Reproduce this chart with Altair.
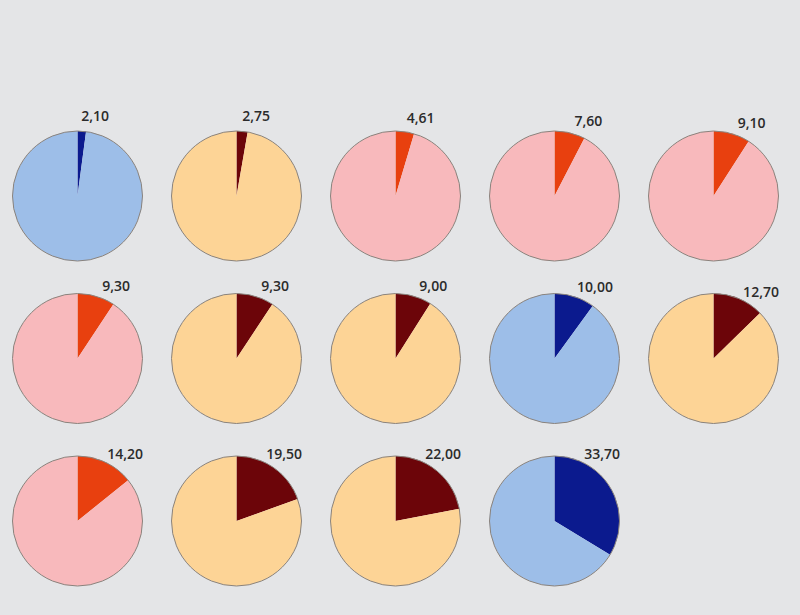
import math
import altair as alt
import pandas as pd

# ---- data ----
values = [2.10, 2.75, 4.61, 7.60, 9.10,
          9.30, 9.30, 9.00, 10.00, 12.70,
          14.20, 19.50, 22.00, 33.70]
labels = ["2,10", "2,75", "4,61", "7,60", "9,10",
          "9,30", "9,30", "9,00", "10,00", "12,70",
          "14,20", "19,50", "22,00", "33,70"]
groups = ["blue", "orange", "pink", "pink", "pink",
          "pink", "orange", "orange", "blue", "orange",
          "pink", "orange", "orange", "blue"]

per_row = 5

# ---- tables built from the arrays ----
parts = []
pies = []
for i, (v, lab, g) in enumerate(zip(values, labels, groups)):
    col, row = i % per_row, i // per_row
    parts.append({"pie": i, "col": col, "row": row, "key": g + "_slice",
                  "start": 0.0, "end": v})
    parts.append({"pie": i, "col": col, "row": row, "key": g + "_rest",
                  "start": v, "end": 100.0})
    pies.append({"pie": i, "col": col, "row": row, "value": v, "label": lab,
                 "start": 0.0, "end": 100.0})
parts_df = pd.DataFrame(parts)
pies_df = pd.DataFrame(pies)

color_domain = ["blue_slice", "blue_rest", "orange_slice", "orange_rest",
                "pink_slice", "pink_rest"]
color_range = ["#0b1a8e", "#9dbee8", "#6c0509", "#fdd496", "#e8400f", "#f8b9bc"]

x_scale = alt.Scale(domain=[0, 4], range=[77.5, 713.5])
y_scale = alt.Scale(domain=[0, 2], range=[196, 521], zero=False, nice=False)
theta_scale = alt.Scale(domain=[0, 100], range=[0, math.tau])

x_enc = alt.X("col:Q", scale=x_scale, axis=None)
y_enc = alt.Y("row:Q", scale=y_scale, axis=None)

slices = alt.Chart(parts_df).mark_arc(radius=65).encode(
    x=x_enc, y=y_enc,
    theta=alt.Theta("start:Q", scale=theta_scale),
    theta2="end:Q",
    color=alt.Color("key:N", scale=alt.Scale(domain=color_domain, range=color_range),
                    legend=None),
)

outline = alt.Chart(pies_df).mark_arc(
    radius=65, fillOpacity=0, stroke="#8a837d", strokeWidth=1
).encode(
    x=x_enc, y=y_enc,
    theta=alt.Theta("start:Q", scale=theta_scale),
    theta2="end:Q",
)

text = alt.Chart(pies_df).transform_calculate(
    lab_theta="min(2.22 + 0.611 * datum.value, 10)"
).mark_text(
    radius=81, align="center", baseline="middle",
    font="Open Sans", fontSize=14, fontWeight=600, color="#2b2b2b"
).encode(
    x=x_enc, y=y_enc,
    theta=alt.Theta("lab_theta:Q", scale=theta_scale),
    text="label:N",
)

chart = alt.layer(slices, outline, text).properties(
    width=800, height=615,
    autosize=alt.AutoSizeParams(type="none"),
    padding=0,
    background="#e4e5e7",
).configure_view(stroke=None)

chart.save("out.html", embed_options={"renderer": "svg", "actions": False})
